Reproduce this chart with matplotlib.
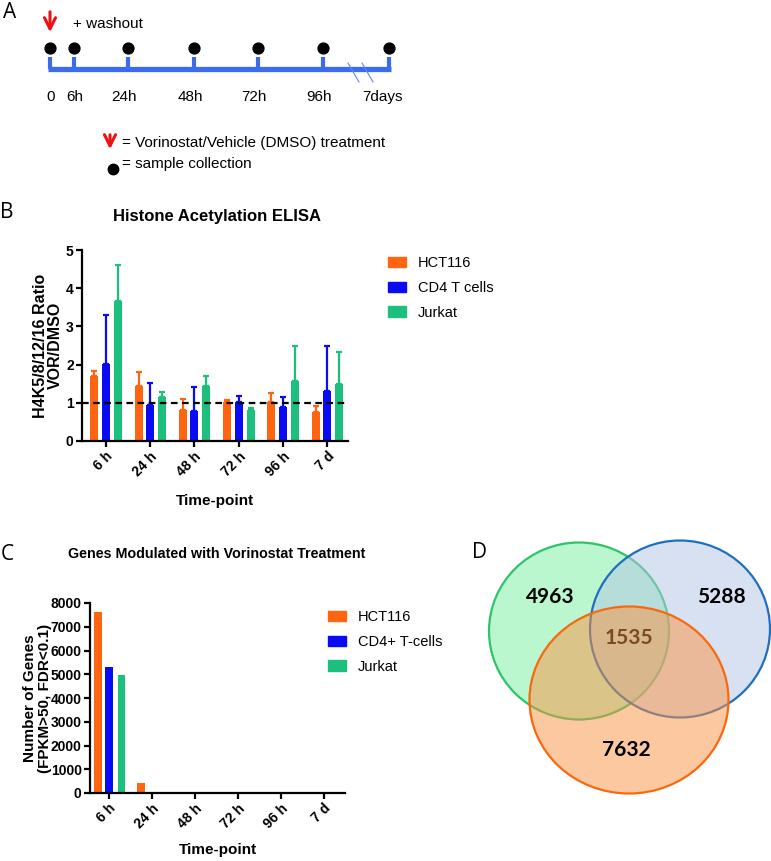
import numpy as np
import matplotlib.pyplot as plt
from matplotlib.patches import Ellipse, Patch

plt.rcParams['font.family'] = ['Liberation Sans', 'DejaVu Sans']

# ---- data ----
timeline_labels = ['0', '6h', '24h', '48h', '72h', '96h', '7days']
timeline_pos = [50, 74, 128, 194, 258, 323, 389]

timepoints = ['6 h', '24 h', '48 h', '72 h', '96 h', '7 d']
cells_b = ['HCT116', 'CD4 T cells', 'Jurkat']
hct116_ratio = [1.69, 1.45, 0.81, 1.02, 1.01, 0.76]
hct116_err = [0.14, 0.36, 0.28, 0.05, 0.25, 0.15]
cd4_ratio = [2.02, 0.94, 0.78, 1.02, 0.89, 1.30]
cd4_err = [1.29, 0.59, 0.64, 0.15, 0.27, 1.19]
jurkat_ratio = [3.66, 1.16, 1.43, 0.81, 1.58, 1.50]
jurkat_err = [0.95, 0.12, 0.27, 0.06, 0.92, 0.82]

cells_c = ['HCT116', 'CD4+ T-cells', 'Jurkat']
hct116_genes = [7632, 440, 0, 0, 0, 0]
cd4_genes = [5288, 0, 0, 0, 0, 0]
jurkat_genes = [4963, 0, 0, 0, 0, 0]

venn_counts = {'Jurkat': 4963, 'CD4': 5288, 'HCT116': 7632, 'all': 1535}

colors = ['#ff6410', '#0a0af5', '#1cbf7e']

W, H = 771, 861
fig = plt.figure(figsize=(W / 100, H / 100), dpi=100)


def px_axes(x0, y0, x1, y1):
    # axes placed by pixel box (top-left origin)
    return fig.add_axes([x0 / W, 1 - y1 / H, (x1 - x0) / W, (y1 - y0) / H])


# ---- panel A: timeline ----
ax_a = px_axes(0, 0, W, 185)
ax_a.set_xlim(0, W)
ax_a.set_ylim(185, 0)
ax_a.axis('off')
blue_line = '#3b6cf0'
ax_a.plot([timeline_pos[0] - 2, timeline_pos[-1] + 2], [69, 69], color=blue_line, lw=3.8,
          solid_capstyle='butt')
for i, (p, lab) in enumerate(zip(timeline_pos, timeline_labels)):
    ax_a.plot([p, p], [57, 69], color=blue_line, lw=3, solid_capstyle='butt')
    ax_a.plot(p, 48, 'o', color='black', ms=7.8)
    if i == len(timeline_pos) - 1:
        ax_a.text(p + 14, 97, lab, ha='right', va='center', fontsize=11)
    else:
        ax_a.text(p - 4 if i > 1 else p + 1, 97, lab, ha='center', va='center', fontsize=11)
for x in [348, 362]:
    ax_a.plot([x, x + 11], [63, 82], color='#5b8be8', lw=0.8)
arrow_style = dict(arrowstyle='->', color='#ee1111', lw=2.2, mutation_scale=20)
ax_a.annotate('', xy=(50, 35), xytext=(50, 9), arrowprops=arrow_style)
ax_a.text(73, 24, '+ washout', ha='left', va='center', fontsize=11)
ax_a.annotate('', xy=(110, 152), xytext=(110, 132), arrowprops=arrow_style)
ax_a.text(122, 143, '= Vorinostat/Vehicle (DMSO) treatment', ha='left', va='center', fontsize=11)
ax_a.plot(113, 169, 'o', color='black', ms=7.5)
ax_a.text(122, 164, '= sample collection', ha='left', va='center', fontsize=11)


def style_bar_axes(ax):
    for s in ['top', 'right']:
        ax.spines[s].set_visible(False)
    for s in ['left', 'bottom']:
        ax.spines[s].set_linewidth(1.6)
    ax.tick_params(width=1.6, length=4, labelsize=10, pad=2)
    for t in ax.get_yticklabels() + ax.get_xticklabels():
        t.set_fontweight('bold')


def add_legend(ax, labels, x0, y0):
    handles = [Patch(color=c, label=l) for c, l in zip(colors, labels)]
    ax.legend(handles=handles, loc='upper left', bbox_to_anchor=(x0 / W, 1 - y0 / H),
              bbox_transform=fig.transFigure, frameon=False, fontsize=10.5,
              borderpad=0, borderaxespad=0, handlelength=1.25, handleheight=0.75,
              handletextpad=0.8, labelspacing=0.75)


# ---- panel B: ELISA ----
ax_b = px_axes(82, 250, 348, 441)
x = np.arange(len(timepoints))
offsets = [-0.26, 0.0, 0.27]
series_b = [(hct116_ratio, hct116_err), (cd4_ratio, cd4_err), (jurkat_ratio, jurkat_err)]
for (vals, errs), off, c in zip(series_b, offsets, colors):
    ax_b.bar(x + off, vals, width=0.18, color=c, zorder=2)
    ax_b.errorbar(x + off, vals, yerr=[np.zeros(len(errs)), errs], fmt='none',
                  ecolor=c, elinewidth=1.6, capsize=2.5, capthick=1.6, zorder=2)
ax_b.axhline(1, color='black', ls=(0, (3, 2)), lw=1.6, zorder=3)
ax_b.set_xlim(-0.54, 5.47)
ax_b.set_ylim(0, 5)
ax_b.set_yticks(range(6))
ax_b.set_xticks(x)
ax_b.set_xticklabels(timepoints, rotation=45, ha='right', rotation_mode='anchor')
style_bar_axes(ax_b)
ax_b.set_ylabel('H4K5/8/12/16 Ratio\nVOR/DMSO', fontsize=11.5, fontweight='bold', linespacing=1.05)
ax_b.yaxis.set_label_coords(-0.07, 0.5)
ax_b.set_xlabel('Time-point', fontsize=11, fontweight='bold')
ax_b.xaxis.set_label_coords(0.5, -0.275)
fig.text(217 / W, 1 - 217 / H, 'Histone Acetylation ELISA', ha='center', va='center',
         fontsize=12, fontweight='bold')
add_legend(ax_b, cells_b, 388, 256)

# ---- panel C: gene counts ----
ax_c = px_axes(90, 603, 345, 793)
offsets_c = [-0.25, 0.01, 0.29]
series_c = [hct116_genes, cd4_genes, jurkat_genes]
for vals, off, c in zip(series_c, offsets_c, colors):
    ax_c.bar(x + off, vals, width=0.18, color=c, zorder=2)
ax_c.set_xlim(-0.44, 5.49)
ax_c.set_ylim(0, 8000)
ax_c.set_yticks(range(0, 8001, 1000))
ax_c.set_xticks(x)
ax_c.set_xticklabels(timepoints, rotation=45, ha='right', rotation_mode='anchor')
style_bar_axes(ax_c)
ax_c.set_ylabel('Number of Genes\n(FPKM>50, FDR<0.1)', fontsize=11, fontweight='bold',
                linespacing=1.05)
ax_c.yaxis.set_label_coords(-0.15, 0.5)
ax_c.set_xlabel('Time-point', fontsize=11, fontweight='bold')
ax_c.xaxis.set_label_coords(0.5, -0.265)
fig.text(217 / W, 1 - 554 / H, 'Genes Modulated with Vorinostat Treatment', ha='center',
         va='center', fontsize=10.3, fontweight='bold')
add_legend(ax_c, cells_c, 328, 610)

# ---- panel D: venn ----
ax_d = px_axes(420, 500, W, H)
ax_d.set_xlim(420, W)
ax_d.set_ylim(H, 500)
ax_d.axis('off')
circles = [((579, 631), 180, 177, (0.467, 0.937, 0.624, 0.5), '#2ec46a'),
           ((680, 629), 180, 177, (0.70, 0.773, 0.906, 0.5), '#1f6fc0'),
           ((629, 700), 199, 187, (0.984, 0.576, 0.255, 0.5), '#f8690f')]
for (cx, cy), w, h, fc, ec in circles:
    ax_d.add_patch(Ellipse((cx, cy), w, h, facecolor=fc, edgecolor='none'))
    ax_d.add_patch(Ellipse((cx, cy), w, h, facecolor='none', edgecolor=ec, lw=1.6))
venn_font = ['Lato', 'DejaVu Sans']
ax_d.text(550, 597, str(venn_counts['Jurkat']), ha='center', va='center', fontsize=15,
          fontweight='bold', family=venn_font)
ax_d.text(721, 597, str(venn_counts['CD4']), ha='center', va='center', fontsize=15,
          fontweight='bold', family=venn_font)
ax_d.text(629, 638, str(venn_counts['all']), ha='center', va='center', fontsize=15,
          fontweight='bold', family=venn_font, color='#7a4a20')
ax_d.text(626, 750, str(venn_counts['HCT116']), ha='center', va='center', fontsize=15,
          fontweight='bold', family=venn_font)

# ---- panel letters ----
for lab, px, py in [('A', 10, 12), ('B', 7, 212), ('C', 7, 555), ('D', 480, 552)]:
    fig.text(px / W, 1 - py / H, lab, ha='center', va='center', fontsize=15,
             family=['Open Sans', 'DejaVu Sans'])

fig.savefig('out.png', dpi=100)
